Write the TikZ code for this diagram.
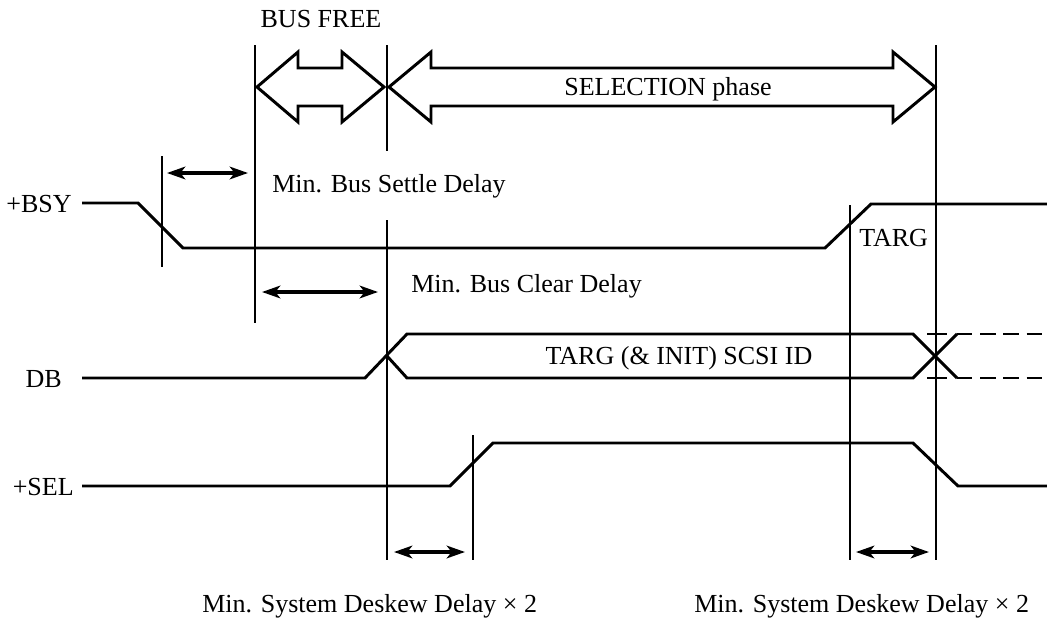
\documentclass[tikz,border=0pt]{standalone}
\usepackage{fontspec}
\setmainfont{Liberation Serif}
\usepackage{tikz}
\usetikzlibrary{arrows.meta}

\begin{document}
\begin{tikzpicture}[line cap=butt,line join=miter,>={Stealth[length=13pt,width=9pt,inset=3.5pt]},x=0.025cm,y=-0.025cm,
    sig/.style={line width=2.1pt},
    tick/.style={line width=1.1pt},
    dim/.style={<->,line width=2.2pt},
    lbl/.style={font=\fontsize{18.5}{22}\selectfont,inner sep=0pt}]
                                      \useasboundingbox (0,0) rectangle (1047,625);
                                      % time marks
                                      \draw [tick] (162,156)-- (162,267);
                                      \draw [tick] (255,45)-- (255,323);
                                      \draw [tick] (387,45)-- (387,151);
                                      \draw [tick] (387,220)-- (387,560);
                                      \draw [tick] (936,45)-- (936,560);
                                      \draw [tick] (850,205)-- (850,560);
                                      \draw [tick] (473,435)-- (473,560);
                                      \draw [tick] (927,334)-- (947,334);
                                      \draw [tick] (927,378)-- (947,378);
                                      % phase arrows
                                      \draw [sig] (257,87)-- (298,52)-- (298,68)-- (342,68)-- (342,52)-- (384,87)-- (342,122)-- (342,106)-- (298,106)-- (298,122)-- cycle;
                                      \draw [sig] (389,87)-- (431,52)-- (431,68)-- (893,68)-- (893,52)-- (935,87)-- (893,122)-- (893,106)-- (431,106)-- (431,122)-- cycle;
                                      \node [lbl,anchor=base] (busfree) at (321,27) {BUS FREE};
                                      \node [lbl,anchor=base] (selphase) at (668,95) {SELECTION phase};
                                      % +BSY
                                      \node [lbl,anchor=base east] (bsy) at (72,212) {+BSY};
                                      \draw [sig] (82,203)-- (138,203)-- (183,248)-- (825,248)-- (871,204)-- (1047,204);
                                      \node [lbl,anchor=base west] (targ) at (859,246) {TARG};
                                      % DB
                                      \node [lbl,anchor=base east] (db) at (62,387) {DB};
                                      \draw [sig] (82,378)-- (365,378)-- (407,334)-- (913,334)-- (957,378);
                                      \draw [sig] (387,356)-- (407,378)-- (913,378)-- (957,334);
                                      \draw [sig,dash pattern=on 11pt off 5.5pt] (957,334)-- (1047,334);
                                      \draw [sig,dash pattern=on 11pt off 5.5pt] (957,378)-- (1047,378);
                                      \node [lbl,anchor=base] (dbid) at (679,364) {TARG (\& INIT) SCSI ID};
                                      % +SEL
                                      \node [lbl,anchor=base east] (sel) at (74,495) {+SEL};
                                      \draw [sig] (82,486)-- (450,486)-- (493,443)-- (913,443)-- (958,486)-- (1047,486);
                                      % delays
                                      \draw [dim] (167,173) -- (248,173);
                                      \node [lbl,anchor=base west] (settle) at (272,192) {Min. Bus Settle Delay};
                                      \draw [dim] (262,292) -- (378,292);
                                      \node [lbl,anchor=base west] (clear) at (411,292) {Min. Bus Clear Delay};
                                      \draw [dim] (394,552) -- (465,552);
                                      \draw [dim] (856,552) -- (929,552);
                                      \node [lbl,anchor=base west] (deskewA) at (202,612) {Min. System Deskew Delay × 2};
                                      \node [lbl,anchor=base west] (deskewB) at (694,612) {Min. System Deskew Delay × 2};
                                  \end{tikzpicture}
\end{document}
